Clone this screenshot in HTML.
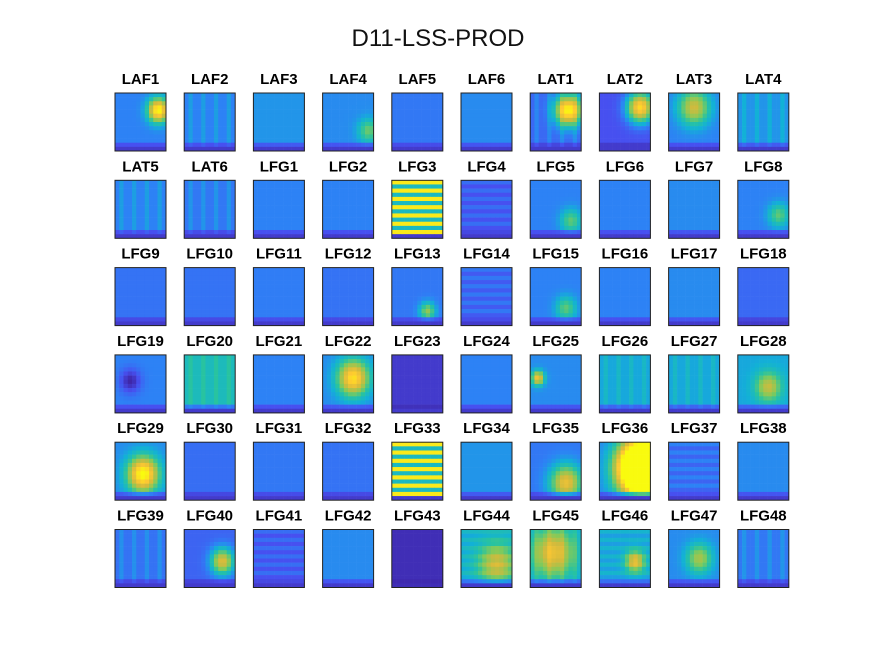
<!DOCTYPE html>
<html><head><meta charset="utf-8"><style>
body{margin:0;background:#fff;}
svg{display:block;}
text{font-family:"Liberation Sans",sans-serif;}
</style></head><body>
<svg id="fig" width="875" height="656" viewBox="0 0 875 656" xmlns="http://www.w3.org/2000/svg">
<rect width="875" height="656" fill="#fff"/>
<text x="438" y="46" font-size="24" text-anchor="middle" fill="#111">D11-LSS-PROD</text>
<g id="panels"></g>
</svg>
<script>
// channel names
const channels = ["LAF1","LAF2","LAF3","LAF4","LAF5","LAF6","LAT1","LAT2","LAT3","LAT4",
"LAT5","LAT6","LFG1","LFG2","LFG3","LFG4","LFG5","LFG6","LFG7","LFG8",
"LFG9","LFG10","LFG11","LFG12","LFG13","LFG14","LFG15","LFG16","LFG17","LFG18",
"LFG19","LFG20","LFG21","LFG22","LFG23","LFG24","LFG25","LFG26","LFG27","LFG28",
"LFG29","LFG30","LFG31","LFG32","LFG33","LFG34","LFG35","LFG36","LFG37","LFG38",
"LFG39","LFG40","LFG41","LFG42","LFG43","LFG44","LFG45","LFG46","LFG47","LFG48"];
// base intensity per channel (0..1 on parula scale)
const baseLevel = [0.2,0.2,0.24,0.22,0.18,0.22,0.15,0.1,0.2,0.24,
0.2,0.18,0.2,0.2,0.6,0.1,0.2,0.2,0.22,0.2,
0.17,0.17,0.19,0.17,0.18,0.12,0.2,0.2,0.22,0.15,
0.2,0.36,0.2,0.22,0.05,0.2,0.22,0.28,0.28,0.28,
0.22,0.16,0.18,0.17,0.65,0.24,0.18,0.2,0.14,0.22,
0.17,0.14,0.1,0.22,0.02,0.28,0.28,0.26,0.22,0.18];
// hotspot per channel: [x, y, radius, amplitude] (fractions of panel)
const hotX = [0.85,0,0,0.9,0,0,0.75,0.8,0.5,0, 0,0,0,0,0,0,0.8,0,0,0.8, 0,0,0,0,0.7,0,0.7,0,0,0, 0.3,0,0,0.6,0,0,0.15,0,0,0.6, 0.55,0,0,0,0,0,0.7,0.85,0,0, 0,0.75,0,0,0,0.7,0.45,0.7,0.6,0];
const hotY = [0.3,0,0,0.65,0,0,0.3,0.25,0.25,0, 0,0,0,0,0,0,0.7,0,0,0.6, 0,0,0,0,0.75,0,0.7,0,0,0, 0.45,0,0,0.4,0,0,0.4,0,0,0.55, 0.55,0,0,0,0,0,0.7,0.45,0,0, 0,0.55,0,0,0,0.6,0.4,0.55,0.5,0];
const hotR = [0.2,0,0,0.2,0,0,0.25,0.25,0.3,0, 0,0,0,0,0,0,0.2,0,0,0.2, 0,0,0,0,0.15,0,0.2,0,0,0, 0.2,0,0,0.3,0,0,0.12,0,0,0.25, 0.3,0,0,0,0,0,0.3,0.45,0,0, 0,0.22,0,0,0,0.35,0.4,0.18,0.25,0];
const hotA = [0.8,0,0,0.3,0,0,0.85,0.8,0.5,0, 0,0,0,0,0,0,0.3,0,0,0.3, 0,0,0,0,0.4,0,0.3,0,0,0, -0.2,0,0,0.7,0,0,0.6,0,0,0.4, 0.8,0,0,0,0,0,0.6,2.0,0,0, 0,0.6,0,0,0,0.4,0.5,0.5,0.4,0];
// stripe type: 0 none, 1 horizontal strong, 2 vertical mild, 3 horizontal mild
const stripeType = [0,2,0,0,0,0,2,0,0,2, 2,2,0,0,1,3,0,0,0,0, 0,0,0,0,0,3,0,0,0,0, 0,2,0,0,0,0,0,2,2,0, 0,0,0,0,1,0,0,0,3,0, 2,0,3,0,0,3,2,3,0,2];

const stops=[[0,[62,38,168]],[0.1,[71,80,240]],[0.2,[45,130,245]],[0.3,[18,177,214]],[0.42,[40,195,160]],[0.55,[130,202,90]],[0.7,[210,186,60]],[0.85,[254,200,50]],[1,[249,251,14]]];
function parula(v){v=Math.max(0,Math.min(1,v));
 for(let i=1;i<stops.length;i++){if(v<=stops[i][0]){const a=stops[i-1],b=stops[i];const t=(v-a[0])/(b[0]-a[0]);
 const c=a[1].map((x,k)=>Math.round(x+(b[1][k]-x)*t));return `rgb(${c[0]},${c[1]},${c[2]})`;}}
 return "rgb(249,251,14)";}
const NS="http://www.w3.org/2000/svg";
const g=document.getElementById("panels");
const COLS=12,ROWS=14,PW=51,PH=58;
channels.forEach((name,i)=>{
 const c=i%10,r=Math.floor(i/10);
 const x0=115+c*69.2,y0=93+r*87.3;
 const grp=document.createElementNS(NS,"g");
 
 
 const t=document.createElementNS(NS,"text");
 
 
 t.setAttribute("x",x0+PW/2);t.setAttribute("y",y0-9);t.setAttribute("font-size","15");
 t.setAttribute("font-weight","bold");t.setAttribute("text-anchor","middle");t.textContent=name;
 grp.appendChild(t);
 for(let yy=0;yy<ROWS;yy++)for(let xx=0;xx<COLS;xx++){
  const fx=(xx+0.5)/COLS,fy=(yy+0.5)/ROWS;
  let v=baseLevel[i];
  if(hotR[i]>0){const d2=((fx-hotX[i])**2+(fy-hotY[i])**2)/(hotR[i]**2);v+=hotA[i]*Math.exp(-d2);}
  const s=stripeType[i];
  if(s===1)v=(yy%2===0)?0.95:0.35;
  if(s===2&&xx%3===1)v+=0.06;
  if(s===3&&yy%2===0)v+=0.06;
  if(yy===ROWS-1)v=Math.min(v,0.05);
  if(yy===ROWS-2&&s!==1)v=v*0.5;
  const rc=document.createElementNS(NS,"rect");
  
  
  rc.setAttribute("x",(x0+xx*PW/COLS).toFixed(2));rc.setAttribute("y",(y0+yy*PH/ROWS).toFixed(2));
  rc.setAttribute("width",(PW/COLS+0.3).toFixed(2));rc.setAttribute("height",(PH/ROWS+0.3).toFixed(2));
  rc.setAttribute("fill",parula(v));grp.appendChild(rc);
 }
 const b=document.createElementNS(NS,"rect");
 
 
 b.setAttribute("x",x0);b.setAttribute("y",y0);b.setAttribute("width",PW);b.setAttribute("height",PH);
 b.setAttribute("fill","none");b.setAttribute("stroke","#222");b.setAttribute("stroke-width","1");
 grp.appendChild(b);
 g.appendChild(grp);
});
</script>
</body></html>
